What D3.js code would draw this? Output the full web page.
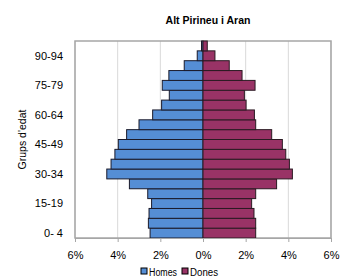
<!DOCTYPE html>
<html>
<head>
<meta charset="utf-8">
<script src="https://cdn.jsdelivr.net/npm/d3@7"></script>
<style>
  body { margin: 0; background: #fff; }
  text { font-family: "Liberation Sans", Arial, sans-serif; }
</style>
</head>
<body>
<svg id="chart"></svg>
<script>
const ageGroups = ["0- 4", "5-9", "10-14", "15-19", "20-24", "25-29", "30-34", "35-39", "40-44", "45-49",
  "50-54", "55-59", "60-64", "65-69", "70-74", "75-79", "80-84", "85-89", "90-94", "95+"];
const shownLabels = ["0- 4", "15-19", "30-34", "45-49", "60-64", "75-79", "90-94"];
const homes = [2.48, 2.56, 2.53, 2.41, 2.59, 3.45, 4.51, 4.31, 4.13, 3.97,
  3.58, 3.0, 2.36, 1.94, 1.58, 1.91, 1.6, 0.88, 0.27, 0.07];
const dones = [2.47, 2.47, 2.39, 2.28, 2.47, 3.45, 4.19, 4.05, 3.88, 3.72,
  3.22, 2.47, 2.41, 2.02, 1.94, 2.44, 1.83, 1.23, 0.56, 0.2];
const xTicks = [-6, -4, -2, 0, 2, 4, 6];

const width = 343;
const height = 278;
const margin = { top: 41, right: 12, bottom: 40, left: 75 };

const svg = d3.select("#chart").attr("width", width).attr("height", height);

const x = d3.scaleLinear().domain([-6, 6]).range([margin.left, width - margin.right]);
const y = d3.scaleBand().domain(ageGroups.slice().reverse())
  .range([margin.top, height - margin.bottom]).padding(0);

// gridlines
svg.append("g")
  .selectAll("line")
  .data(xTicks)
  .enter()
  .append("line")
  .attr("x1", (d) => x(d)).attr("x2", (d) => x(d))
  .attr("y1", margin.top).attr("y2", height - margin.bottom)
  .attr("stroke", "#d9d9d9").attr("stroke-width", 1);

// plot border
svg.append("rect")
  .attr("x", margin.left).attr("y", margin.top)
  .attr("width", x(6) - x(-6)).attr("height", height - margin.bottom - margin.top)
  .attr("fill", "none").attr("stroke", "#a6a6a6").attr("stroke-width", 1.5);

// bars
const g = svg.append("g");
g.selectAll(".homes")
  .data(ageGroups)
  .enter()
  .append("rect")
  .attr("x", (d, i) => x(-homes[i]))
  .attr("y", (d) => y(d))
  .attr("width", (d, i) => x(0) - x(-homes[i]))
  .attr("height", y.bandwidth())
  .attr("fill", "#558ed5")
  .attr("stroke", "#1a1a2a").attr("stroke-width", 1);

g.selectAll(".dones")
  .data(ageGroups)
  .enter()
  .append("rect")
  .attr("x", x(0))
  .attr("y", (d) => y(d))
  .attr("width", (d, i) => x(dones[i]) - x(0))
  .attr("height", y.bandwidth())
  .attr("fill", "#993366")
  .attr("stroke", "#2a1a22").attr("stroke-width", 1);

// x axis
const xAxis = svg.append("g")
  .attr("transform", `translate(0,${height - margin.bottom})`)
  .call(d3.axisBottom(x).tickValues(xTicks).tickSize(4)
    .tickFormat((d) => Math.abs(d) + "%"));
xAxis.select(".domain").attr("stroke", "#a6a6a6");
xAxis.selectAll(".tick line").attr("stroke", "#a6a6a6");
xAxis.selectAll("text").attr("font-size", 11).attr("fill", "#000").attr("dy", "1.3em");

// y labels
svg.append("g")
  .selectAll("text")
  .data(shownLabels)
  .enter()
  .append("text")
  .attr("x", 63)
  .attr("y", (d) => y(d) + y.bandwidth() / 2)
  .attr("dy", "0.35em")
  .attr("text-anchor", "end")
  .attr("font-size", 11)
  .text((d) => d);

// title
svg.append("text")
  .attr("x", 208).attr("y", 24)
  .attr("text-anchor", "middle")
  .attr("font-size", 10.5).attr("font-weight", "bold")
  .text("Alt Pirineu i Aran");

// y axis title
svg.append("text")
  .attr("transform", `translate(26,${(margin.top + height - margin.bottom) / 2}) rotate(-90)`)
  .attr("text-anchor", "middle")
  .attr("font-size", 10.5)
  .text("Grups d'edat");

// legend
const legend = [{ name: "Homes", color: "#558ed5", x: 141 }, { name: "Dones", color: "#993366", x: 182 }];
const lg = svg.append("g").selectAll("g").data(legend).enter().append("g");
lg.append("rect")
  .attr("x", (d) => d.x).attr("y", 268)
  .attr("width", 6).attr("height", 6)
  .attr("fill", (d) => d.color).attr("stroke", "#000").attr("stroke-width", 1);
lg.append("text")
  .attr("x", (d) => d.x + 8).attr("y", 276)
  .attr("font-size", 10)
  .attr("textLength", 28)
  .attr("lengthAdjust", "spacingAndGlyphs")
  .text((d) => d.name);
</script>
</body>
</html>
